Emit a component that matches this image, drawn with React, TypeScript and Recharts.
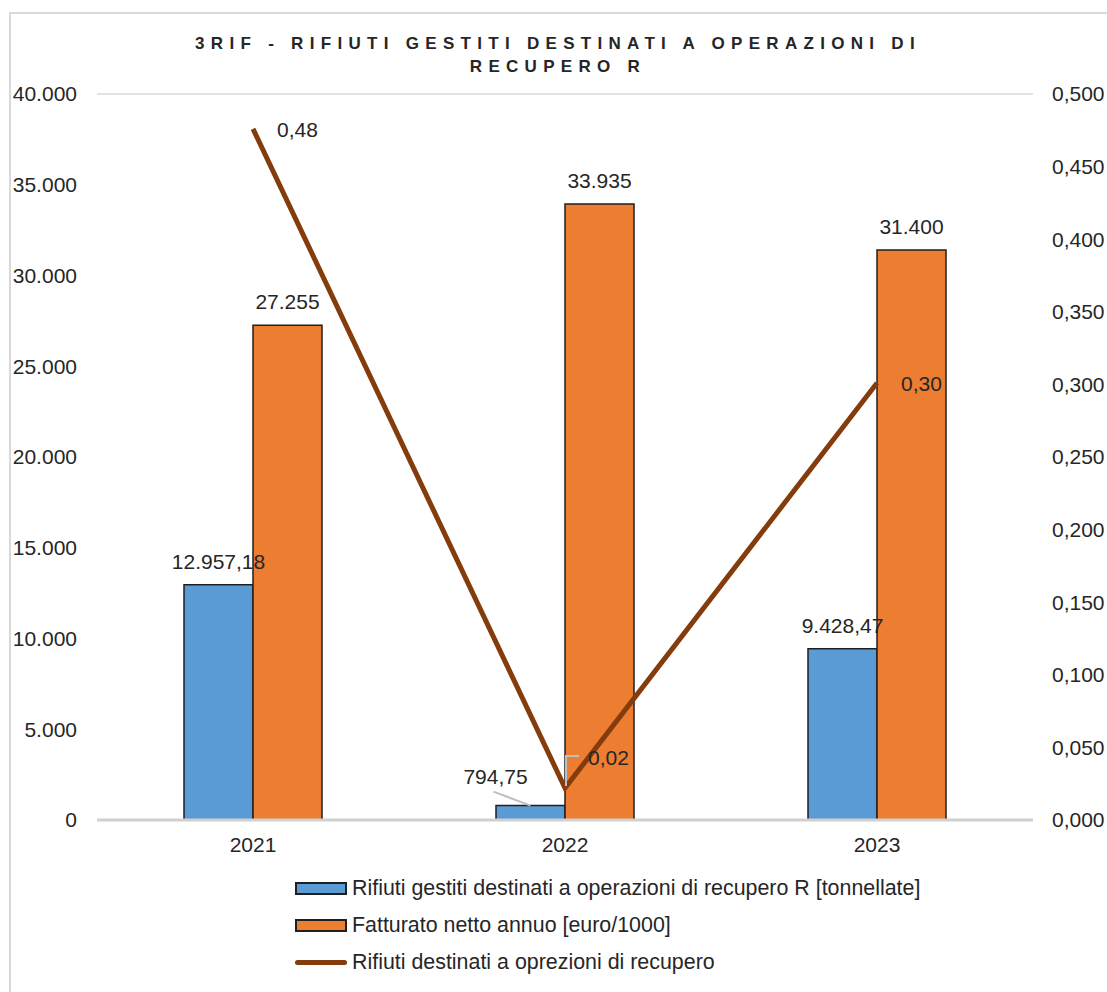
import React from 'react';
import { ComposedChart, Bar, Line, XAxis, YAxis, CartesianGrid, LabelList } from 'recharts';

const years = ['2021', '2022', '2023'];
const rifiutiTon = [12957.18, 794.75, 9428.47];
const fatturato = [27255, 33935, 31400];
const ratio = [0.476, 0.022, 0.301];
const leftTicks = [0, 5000, 10000, 15000, 20000, 25000, 30000, 35000, 40000];
const rightTicks = [0, 0.05, 0.1, 0.15, 0.2, 0.25, 0.3, 0.35, 0.4, 0.45, 0.5];

const titleLines = ['3RIF - RIFIUTI GESTITI DESTINATI A OPERAZIONI DI', 'RECUPERO R'];
const seriesNames = [
  'Rifiuti gestiti destinati a operazioni di recupero R [tonnellate]',
  'Fatturato netto annuo [euro/1000]',
  'Rifiuti destinati a oprezioni di recupero',
];

const BLUE = '#5B9BD5';
const ORANGE = '#ED7D31';
const BROWN = '#843C0C';
const FONT = '"Liberation Sans", Arial, sans-serif';
const TEXT = '#262626';
const FS = 21;

const data = years.map((y, i) => ({ year: y, rif: rifiutiTon[i], fat: fatturato[i], ratio: ratio[i] }));

function groupInt(s: string): string {
  return s.replace(/\B(?=(\d{3})+(?!\d))/g, '.');
}
function fmtNum(v: number, dec: number): string {
  const fixed = v.toFixed(dec);
  const [ip, dp] = fixed.split('.');
  return dp !== undefined ? groupInt(ip) + ',' + dp : groupInt(ip);
}

const BarTopLabel = (dec: number, leaderIndex: number) => (props: any) => {
  const { x, y, width, value, index } = props;
  const cx = x + width / 2;
  const txt = fmtNum(value, dec);
  if (index === leaderIndex) {
    return (
      <g>
        <line x1={cx} y1={y} x2={cx - 37} y2={y - 14} stroke="#bfbfbf" strokeWidth={2} />
        <text x={cx - 35} y={y - 22} textAnchor="middle" fontSize={FS} fontFamily={FONT} fill={TEXT}>{txt}</text>
      </g>
    );
  }
  return (
    <text x={cx} y={y - 16} textAnchor="middle" fontSize={FS} fontFamily={FONT} fill={TEXT}>{txt}</text>
  );
};

const LineLabel = (props: any) => {
  const { x, y, value, index } = props;
  const txt = fmtNum(value, 2);
  if (index === 1) {
    return (
      <g>
        <polyline points={`${x + 1},${y - 2} ${x + 1},${y - 32} ${x + 14},${y - 32}`} fill="none" stroke="#bfbfbf" strokeWidth={2} />
        <text x={x + 23} y={y - 23} fontSize={FS} fontFamily={FONT} fill={TEXT}>{txt}</text>
      </g>
    );
  }
  return <text x={x + 24} y={y + 8} fontSize={FS} fontFamily={FONT} fill={TEXT}>{txt}</text>;
};

export default function App() {
  return (
    <div style={{ position: 'absolute', left: 0, top: 0, width: 1107, height: 992, background: '#fff', overflow: 'hidden' }}>
      <div style={{ position: 'absolute', left: 9, top: 12, width: 1120, height: 1000, border: '2px solid #d9d9d9', boxSizing: 'border-box' }} />
      <div style={{ position: 'absolute', left: 0, top: 32, width: 1116, textAlign: 'center', fontFamily: FONT, fontWeight: 'bold', fontSize: 17, letterSpacing: 6.3, lineHeight: '23px', color: TEXT }}>
        {titleLines.map((t) => (<div key={t}>{t}</div>))}
      </div>
      <div style={{ position: 'absolute', left: 0, top: 0 }}>
        <ComposedChart width={1107} height={992} data={data} margin={{ top: 94, right: 0, bottom: 132, left: 0 }} barGap={0}>
          <CartesianGrid vertical={false} stroke="#d9d9d9" strokeWidth={1.5} />
          <XAxis dataKey="year" tickLine={false} axisLine={{ stroke: '#d0d0d0', strokeWidth: 3 }} tick={{ fontSize: FS, fontFamily: FONT, fill: TEXT }} tickMargin={11} height={40} />
          <YAxis yAxisId="left" orientation="left" width={97} domain={[0, 40000]} ticks={leftTicks} interval={0} axisLine={false} tickLine={false} tickMargin={14} tickFormatter={(v: number) => fmtNum(v, 0)} tick={{ fontSize: FS, fontFamily: FONT, fill: TEXT }} />
          <YAxis yAxisId="right" orientation="right" width={74} domain={[0, 0.5]} ticks={rightTicks} interval={0} axisLine={false} tickLine={false} tickMargin={13} tickFormatter={(v: number) => fmtNum(v, 3)} tick={{ fontSize: FS, fontFamily: FONT, fill: TEXT, textAnchor: 'start' }} />
          <Bar yAxisId="left" dataKey="rif" name={seriesNames[0]} fill={BLUE} stroke="#1f1f1f" strokeWidth={1.5} barSize={69} isAnimationActive={false}>
            <LabelList dataKey="rif" content={BarTopLabel(2, 1)} />
          </Bar>
          <Bar yAxisId="left" dataKey="fat" name={seriesNames[1]} fill={ORANGE} stroke="#1f1f1f" strokeWidth={1.5} barSize={69} isAnimationActive={false}>
            <LabelList dataKey="fat" content={BarTopLabel(0, -1)} />
          </Bar>
          <Line yAxisId="right" type="linear" dataKey="ratio" name={seriesNames[2]} stroke={BROWN} strokeWidth={5} dot={false} activeDot={false} isAnimationActive={false}>
            <LabelList dataKey="ratio" content={LineLabel} />
          </Line>
        </ComposedChart>
      </div>
      <div style={{ position: 'absolute', left: 295, top: 870, fontFamily: FONT, fontSize: 21.4, color: TEXT }}>
        {seriesNames.map((n, i) => (
          <div key={n} style={{ display: 'flex', alignItems: 'center', height: 37 }}>
            {i < 2 ? (
              <span style={{ display: 'inline-block', width: 48, height: 9, background: i === 0 ? BLUE : ORANGE, border: '2px solid #1f1f1f', marginRight: 5 }} />
            ) : (
              <span style={{ display: 'inline-block', width: 52, height: 5, borderRadius: 3, background: BROWN, marginRight: 5 }} />
            )}
            <span>{n}</span>
          </div>
        ))}
      </div>
    </div>
  );
}
